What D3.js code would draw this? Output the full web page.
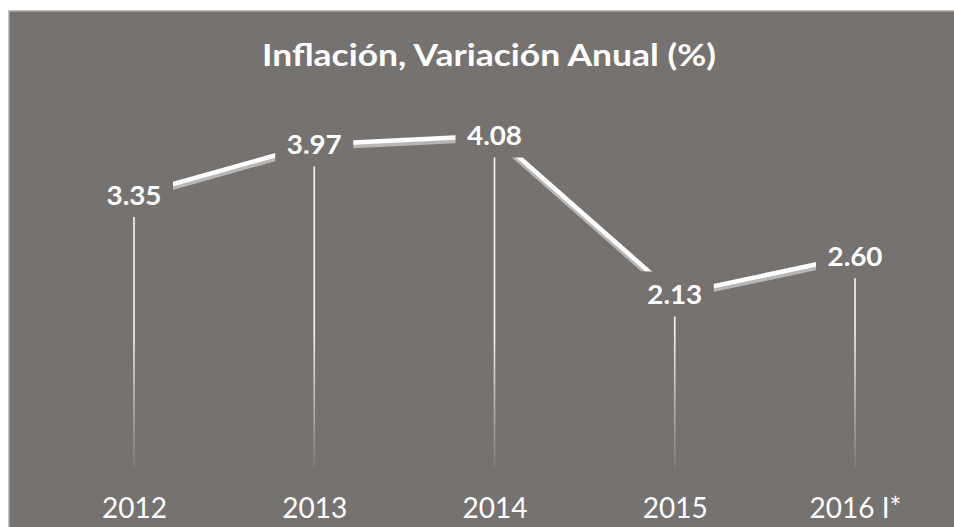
<!DOCTYPE html>
<html><head><meta charset="utf-8">
<script src="https://cdn.jsdelivr.net/npm/d3@7"></script>
<style>html,body{margin:0;padding:0;background:#fff;}svg{display:block;}</style>
</head><body>
<svg id="chart" width="954" height="527"></svg>
<script>
const categories = ["2012", "2013", "2014", "2015", "2016 I*"];
const values = [3.35, 3.97, 4.08, 2.13, 2.60];
const valueLabels = ["3.35", "3.97", "4.08", "2.13", "2.60"];
const title = "Inflación, Variación Anual (%)";

const W = 954, H = 527;
const bg = "#767270";
const svg = d3.select("#chart");
const font = "Lato, 'Open Sans', sans-serif";

// chart area
svg.append("rect").attr("x", 8).attr("y", 10).attr("width", W - 8).attr("height", H - 10).attr("fill", "#c4c2c1");
svg.append("rect").attr("x", 9.5).attr("y", 11.5).attr("width", W - 9.5).attr("height", H - 11.5).attr("fill", bg);

const x = d3.scalePoint().domain(categories).range([134, 855]);
const y = d3.scaleLinear().domain([0, 5]).range([468, 60.5]);

const defs = svg.append("defs");
const grad = defs.append("linearGradient").attr("id", "dropGrad")
  .attr("gradientUnits", "userSpaceOnUse").attr("x1", 0).attr("x2", 0).attr("y1", 330).attr("y2", 470);
grad.append("stop").attr("offset", 0).attr("stop-color", "#ffffff").attr("stop-opacity", 0.95);
grad.append("stop").attr("offset", 1).attr("stop-color", "#ffffff").attr("stop-opacity", 0.05);

const data = categories.map((c, i) => ({c, v: values[i], label: valueLabels[i]}));

// drop lines
svg.append("g").selectAll("line").data(data).join("line")
  .attr("x1", d => x(d.c)).attr("x2", d => x(d.c))
  .attr("y1", d => y(d.v)).attr("y2", y(0))
  .attr("stroke", "url(#dropGrad)").attr("stroke-width", 1.6);

// line with shadow
const line = d3.line().x(d => x(d.c)).y(d => y(d.v));
svg.append("path").datum(data).attr("d", line)
  .attr("transform", "translate(0,3.5)")
  .attr("fill", "none").attr("stroke", "#b9b7b6").attr("stroke-width", 4.5);
svg.append("path").datum(data).attr("d", line)
  .attr("fill", "none").attr("stroke", "#ffffff").attr("stroke-width", 4.5);

// value labels with background
const lab = svg.append("g").selectAll("g").data(data).join("g")
  .attr("transform", d => `translate(${x(d.c)},${y(d.v)})`);
lab.append("rect").attr("x", -39).attr("y", -23).attr("width", 78).attr("height", 45).attr("fill", bg);
lab.append("text").text(d => d.label)
  .attr("text-anchor", "middle").attr("y", 10)
  .attr("font-family", font).attr("font-weight", "bold").attr("font-size", 27)
  .attr("fill", "#ffffff")
  .attr("textLength", 55).attr("lengthAdjust", "spacingAndGlyphs");

// x axis labels
const xAxis = d3.axisBottom(x).tickSize(0).tickPadding(0);
const gx = svg.append("g").attr("transform", `translate(0,498)`).call(xAxis);
gx.select(".domain").remove();
gx.selectAll("text")
  .attr("font-family", font).attr("font-size", 28).attr("fill", "#ffffff")
  .attr("dy", "0.72em");

// title
svg.append("text").text(title)
  .attr("x", 489).attr("y", 66).attr("text-anchor", "middle")
  .attr("font-family", font).attr("font-weight", "bold").attr("font-size", 31)
  .attr("fill", "#ffffff")
  .attr("textLength", 454).attr("lengthAdjust", "spacingAndGlyphs");
</script>
</body></html>
